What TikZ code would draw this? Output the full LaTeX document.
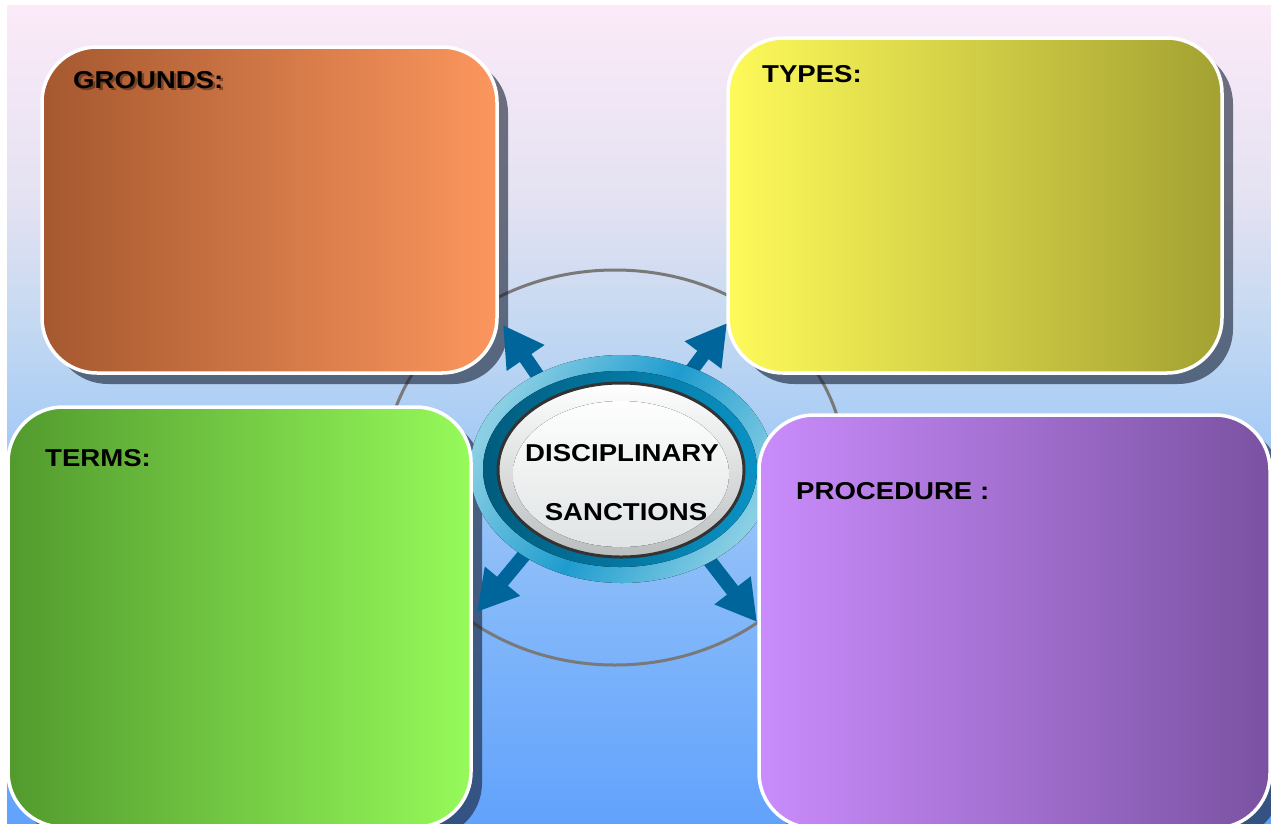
\documentclass[tikz,border=0pt]{standalone}
\usepackage{fontspec}
\setmainfont{Liberation Sans}
\newfontfamily\lblfont{Liberation Sans}[FakeStretch=1.13]
\usetikzlibrary{arrows.meta}

% palette
\definecolor{bgA}{HTML}{FCEAF8}
\definecolor{bgB}{HTML}{E4E2F2}
\definecolor{bgC}{HTML}{C2D8F2}
\definecolor{bgD}{HTML}{A0C8F6}
\definecolor{bgE}{HTML}{80B6FA}
\definecolor{bgF}{HTML}{62A2FC}
\definecolor{shadowcol}{HTML}{141E32}
\definecolor{arrowblue}{HTML}{00659B}
\definecolor{groundsL}{HTML}{A5582F}
\definecolor{groundsR}{HTML}{FC965E}
\definecolor{typesL}{HTML}{FEFA5A}
\definecolor{typesR}{HTML}{A3A132}
\definecolor{termsL}{HTML}{529A2E}
\definecolor{termsR}{HTML}{96FA5A}
\definecolor{procL}{HTML}{CA8CFC}
\definecolor{procR}{HTML}{7A52A2}
\definecolor{ringLight}{HTML}{8ACFE4}
\definecolor{ringMid}{HTML}{1E9CCF}
\definecolor{ringDarkL}{HTML}{005C7E}
\definecolor{ringDarkR}{HTML}{0A92C4}
\definecolor{capGray}{HTML}{B9BDBE}
\definecolor{capInner}{HTML}{E0E4E4}

\pgfdeclareverticalshading{skyshade}{100bp}{%
  color(0bp)=(bgF); color(25bp)=(bgF); color(37bp)=(bgE); color(47bp)=(bgD);
  color(55bp)=(bgC); color(63bp)=(bgB); color(75bp)=(bgA); color(100bp)=(bgA)}

\begin{document}
\begin{tikzpicture}[x=1pt,y=-1pt,
  panel/.style={draw=white, line width=3.5pt, rounded corners=55pt,
    inner sep=0pt, rectangle},
  panelshadow/.style={fill=shadowcol, fill opacity=0.6, draw=none,
    rounded corners=55pt, inner sep=0pt, rectangle},
  heading/.style={font=\lblfont\bfseries\fontsize{24.4}{28}\selectfont,
    anchor=base west, inner sep=0pt, text=black},
  centertext/.style={font=\lblfont\bfseries\fontsize{24.4}{28}\selectfont,
    anchor=base, inner sep=0pt, text=black},
  link/.style={draw=arrowblue, line width=14pt,
    -{Triangle[length=40pt,width=43pt]}}
]
\useasboundingbox (0,0) rectangle (1271,823);
\clip (0,0) rectangle (1271,823);
\fill[white] (0,0) rectangle (1271,823);

% sky background
\fill[shading=skyshade] (7,5) rectangle (1271,823);

% orbit ring
\draw[gray!95!black, line width=3pt] (615,467.5) ellipse [x radius=230pt, y radius=197.5pt];

% panel shadows
\node[panelshadow, minimum width=455pt, minimum height=326pt] (groundsShadow) at (280.5,221) {};
\node[panelshadow, minimum width=494pt, minimum height=335pt] (typesShadow) at (986,216.5) {};
\node[panelshadow, minimum width=463pt, minimum height=420pt] (termsShadow) at (250.5,628) {};
\node[panelshadow, minimum width=511pt, minimum height=413pt] (procShadow) at (1025.5,632.5) {};

% arrows radiating from the hub
\coordinate (ctr) at (621,469);
\coordinate (nwFrom) at (588,449);
\coordinate (nwTip) at (503,325);
\coordinate (neFrom) at (637,443);
\coordinate (neTip) at (727,323);
\coordinate (swFrom) at (573,496);
\coordinate (swTip) at (477,612);
\coordinate (seFrom) at (665,503);
\coordinate (seTip) at (757,622);
\draw[link] (nwFrom) -- (nwTip);
\draw[link] (neFrom) -- (neTip);
\draw[link] (swFrom) -- (swTip);
\draw[link] (seFrom) -- (seTip);

% hub
\fill[shading=axis, top color=ringLight, bottom color=ringLight, middle color=ringMid,
  shading angle=60] (622,469) ellipse [x radius=152pt, y radius=114pt];
\fill[left color=ringDarkL, right color=ringDarkR] (620,469) ellipse [x radius=137pt, y radius=98pt];
\draw[draw=black!80, line width=3pt, top color=white, bottom color=capGray]
  (621,470) ellipse [x radius=123pt, y radius=87pt];
\fill[top color=white!96!capInner, bottom color=capInner]
  (621,474) ellipse [x radius=108pt, y radius=73pt];
\node[centertext] (hubTop) at (622,461) {DISCIPLINARY};
\node[centertext] (hubBottom) at (626,520) {SANCTIONS};

% panels
\node[panel, left color=groundsL, right color=groundsR,
  minimum width=455pt, minimum height=326pt] (grounds) at (269.5,210) {};
\node[panel, left color=typesL, right color=typesR,
  minimum width=494pt, minimum height=335pt] (types) at (975,205.5) {};
\node[panel, left color=termsL, right color=termsR,
  minimum width=463pt, minimum height=420pt] (terms) at (239.5,617) {};
\node[panel, left color=procL, right color=procR,
  minimum width=511pt, minimum height=413pt] (proc) at (1014.5,621.5) {};

% headings
\node[heading, text=black, opacity=0.35] (groundsLblShade) at (75.5,90.5) {GROUNDS:};
\node[heading] (groundsLbl) at (73,88) {GROUNDS:};
\node[heading] (typesLbl) at (762,82) {TYPES:};
\node[heading] (termsLbl) at (45,466) {TERMS:};
\node[heading] (procLbl) at (796,499) {PROCEDURE :};
\end{tikzpicture}
\end{document}
